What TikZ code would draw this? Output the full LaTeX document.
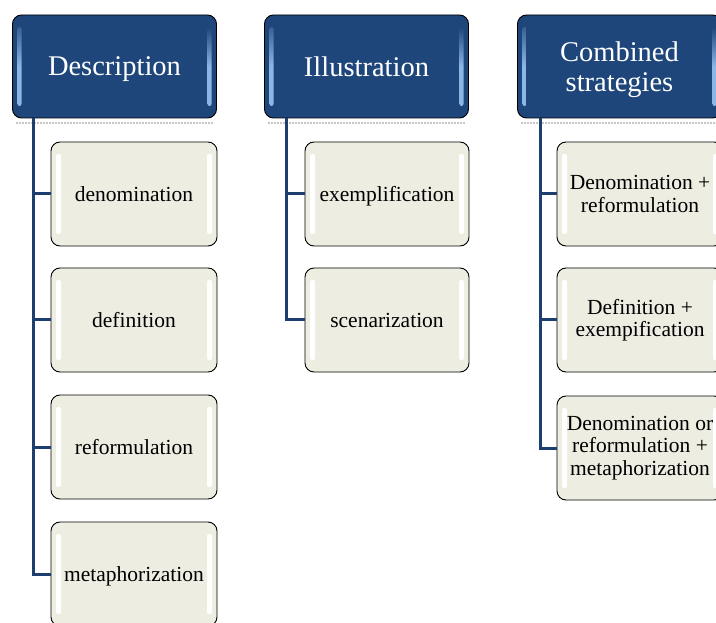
\documentclass[tikz,border=0pt]{standalone}
\usepackage{fontspec}
\setmainfont{Liberation Serif}
\usetikzlibrary{calc}
\definecolor{hdblue}{RGB}{30,70,122}
\definecolor{hdlight}{RGB}{140,182,230}
\definecolor{linecol}{RGB}{30,62,112}
\definecolor{boxfill}{RGB}{238,237,226}
\tikzset{
  header/.style={draw=black, line width=0.9pt, rounded corners=9pt, fill=hdblue,
    text=white, font=\fontsize{28.5}{30}\selectfont, align=center,
    minimum width=204pt, minimum height=103pt, inner sep=0pt,
    path picture={
      \shade[top color=hdblue, bottom color=hdlight, middle color=hdlight, rounded corners=2pt]
        ([xshift=5pt,yshift=-12pt]path picture bounding box.north west) rectangle
        ([xshift=9pt,yshift=12pt]path picture bounding box.south west);
      \shade[top color=hdblue, bottom color=hdlight, middle color=hdlight, rounded corners=2pt]
        ([xshift=-5pt,yshift=-12pt]path picture bounding box.north east) rectangle
        ([xshift=-9pt,yshift=12pt]path picture bounding box.south east);
    }},
  leaf/.style={draw=black, line width=0.9pt, rounded corners=9pt, fill=boxfill,
    text=black, font=\fontsize{21.5}{22.5}\selectfont, align=center,
    minimum width=166pt, minimum height=104pt, inner sep=0pt,
    path picture={
      \fill[white, rounded corners=2pt]
        ([xshift=5pt,yshift=-12pt]path picture bounding box.north west) rectangle
        ([xshift=10pt,yshift=12pt]path picture bounding box.south west);
      \fill[white, rounded corners=2pt]
        ([xshift=-5pt,yshift=-12pt]path picture bounding box.north east) rectangle
        ([xshift=-10pt,yshift=12pt]path picture bounding box.south east);
    }},
  oneline/.style={text depth=0pt},
  conn/.style={draw=linecol, line width=3pt},
  shadowline/.style={draw=gray!45, line width=2pt, dash pattern=on 1.5pt off 1.5pt}
}
\begin{document}
\begin{tikzpicture}[x=1pt,y=-1pt]
\path[use as bounding box, clip] (0,0) rectangle (716,623);
\fill[white] (0,0) rectangle (716,623);

% headers
\node[header, oneline] (D) at (114.5,66.5) {Description};
\node[header, oneline] (I) at (366.5,66.5) {Illustration};
\node[header, oneline] (C) at (619.5,66.5) {Combined\\strategies};

% header shadows
\draw[shadowline] ([xshift=4pt,yshift=-5pt]D.south west) -- ([xshift=-4pt,yshift=-5pt]D.south east);
\draw[shadowline] ([xshift=4pt,yshift=-5pt]I.south west) -- ([xshift=-4pt,yshift=-5pt]I.south east);
\draw[shadowline] ([xshift=4pt,yshift=-5pt]C.south west) -- ([xshift=-4pt,yshift=-5pt]C.south east);

% Description children
\node[leaf, oneline] (d1) at (134,194) {denomination};
\node[leaf, oneline] (d2) at (134,320) {definition};
\node[leaf, oneline] (d3) at (134,447) {reformulation};
\node[leaf, oneline] (d4) at (134,574) {metaphorization};

% Illustration children
\node[leaf, oneline, minimum width=164pt] (i1) at (387,194) {exemplification};
\node[leaf, oneline, minimum width=164pt] (i2) at (387,320) {scenarization};

% Combined children
\node[leaf] (c1) at (640,194) {Denomination +\\reformulation};
\node[leaf] (c2) at (640,320) {Definition +\\exempification};
\node[leaf] (c3) at (640,448) {Denomination or\\reformulation +\\metaphorization};

% trunks
\coordinate (Dt) at (33,118);
\coordinate (It) at (286,118);
\coordinate (Ct) at (540,118);

\draw[conn] (Dt) |- (d4.west);
\draw[conn] (Dt |- d1.west) -- (d1.west);
\draw[conn] (Dt |- d2.west) -- (d2.west);
\draw[conn] (Dt |- d3.west) -- (d3.west);

\draw[conn] (It) |- (i2.west);
\draw[conn] (It |- i1.west) -- (i1.west);

\draw[conn] (Ct) |- (c3.west);
\draw[conn] (Ct |- c1.west) -- (c1.west);
\draw[conn] (Ct |- c2.west) -- (c2.west);
\end{tikzpicture}
\end{document}
